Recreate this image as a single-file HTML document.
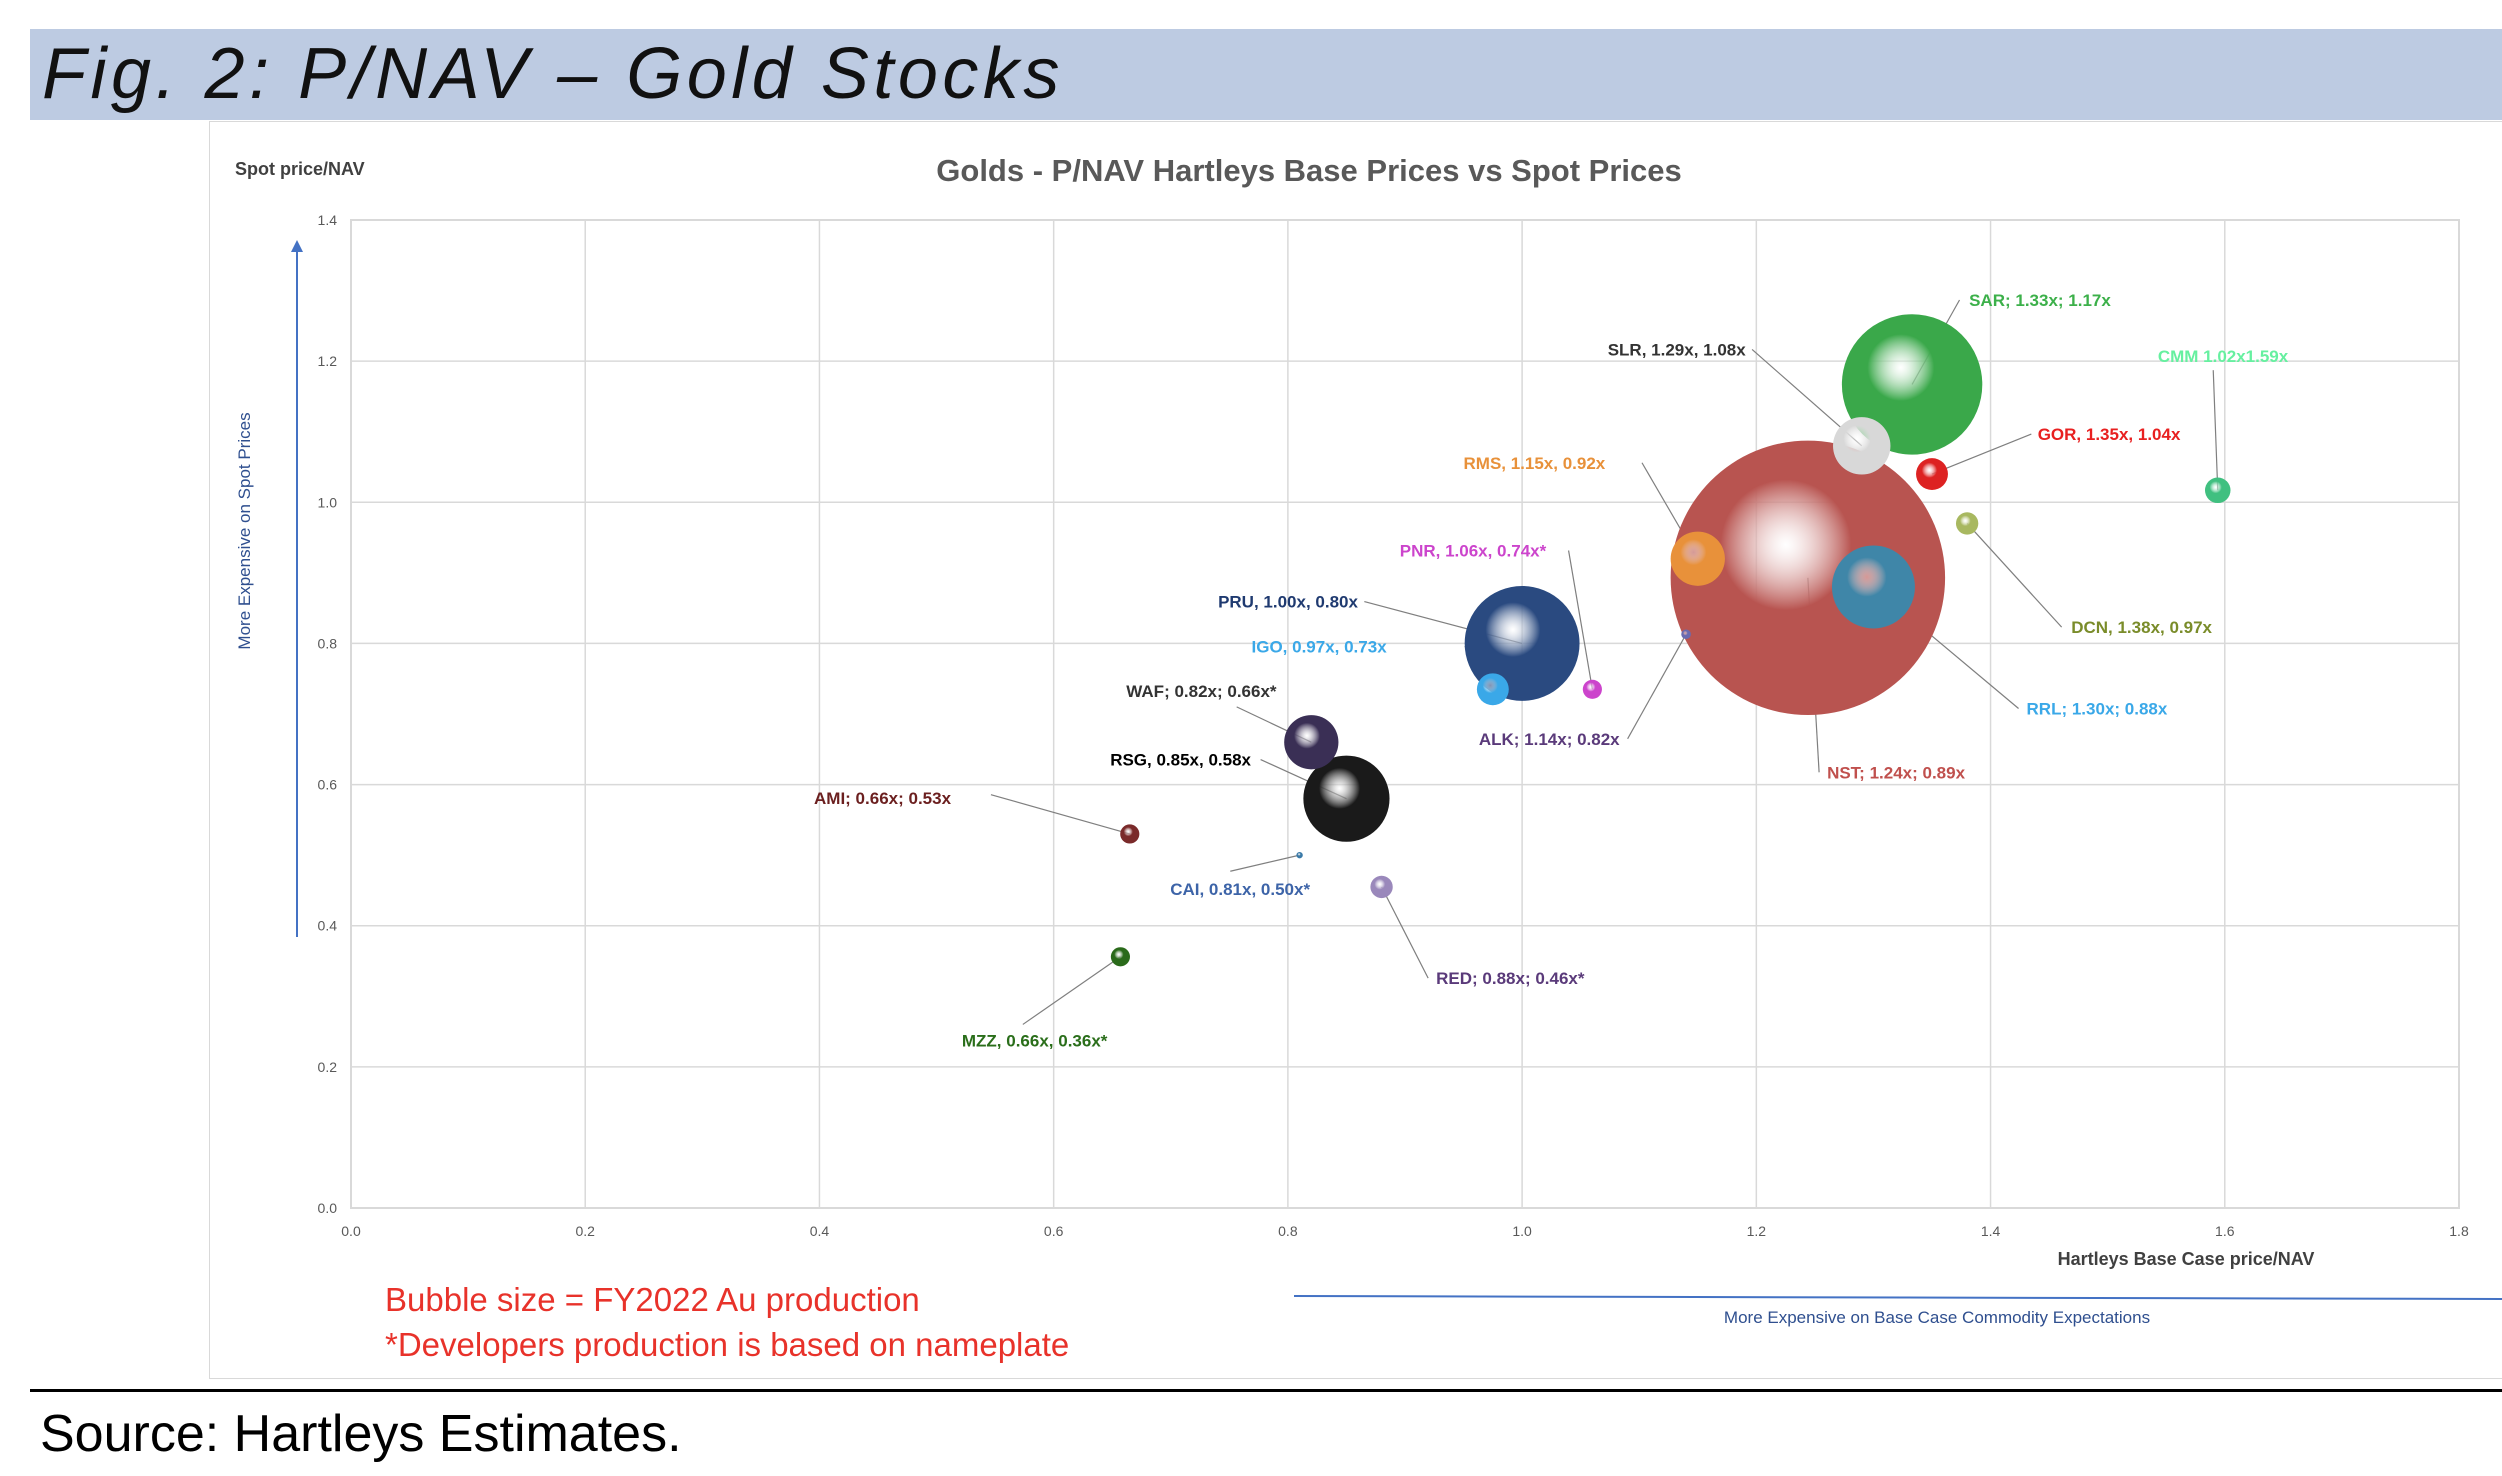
<!DOCTYPE html>
<html><head><meta charset="utf-8">
<style>
html,body{margin:0;padding:0;background:#fff;}
body{width:2502px;height:1476px;position:relative;overflow:hidden;font-family:"Liberation Sans",sans-serif;}
</style></head>
<body>
<div style="position:absolute;left:30px;top:29px;width:2472px;height:91px;background:#bdcbe2;"></div>
<div style="position:absolute;left:42px;top:28px;font-size:72px;font-style:italic;letter-spacing:4.5px;color:#111;line-height:92px;">Fig. 2: P/NAV – Gold Stocks</div>
<div style="position:absolute;left:209px;top:121px;width:2300px;height:1256px;border:1.5px solid #d9d9d9;"></div>
<div style="position:absolute;left:30px;top:1389px;width:2472px;height:3px;background:#000;"></div>
<div style="position:absolute;left:40px;top:1404px;font-size:52px;color:#000;line-height:60px;">Source: Hartleys Estimates.</div>

<svg id="chart" width="2502" height="1476" style="position:absolute;left:0;top:0;" xmlns="http://www.w3.org/2000/svg">
<text x="1309" y="181" text-anchor="middle" font-family="Liberation Sans" font-weight="bold" font-size="31" fill="#595959">Golds - P/NAV Hartleys Base Prices vs Spot Prices</text>
<text x="235" y="175" font-family="Liberation Sans" font-weight="bold" font-size="18" fill="#404040">Spot price/NAV</text>
<text x="2186" y="1265" text-anchor="middle" font-family="Liberation Sans" font-weight="bold" font-size="18" fill="#404040">Hartleys Base Case price/NAV</text>
<text transform="translate(250,531) rotate(-90)" text-anchor="middle" font-family="Liberation Sans" font-size="17" fill="#2f4f8f">More Expensive on Spot Prices</text>
<line x1="297" y1="937" x2="297" y2="250" stroke="#4472c4" stroke-width="2"/>
<polygon points="297,240 291,252 303,252" fill="#4472c4"/>
<line x1="1294" y1="1296" x2="2502" y2="1299" stroke="#4472c4" stroke-width="2"/>
<text x="1937" y="1323" text-anchor="middle" font-family="Liberation Sans" font-size="17" fill="#2f4f8f">More Expensive on Base Case Commodity Expectations</text>
<text x="385" y="1311" font-family="Liberation Sans" font-size="33" fill="#e8322a">Bubble size = FY2022 Au production</text>
<text x="385" y="1356" font-family="Liberation Sans" font-size="33" fill="#e8322a">*Developers production is based on nameplate</text>
<defs id="defs"></defs>
<g id="grid"></g><g id="leaders"></g><g id="bubbles"></g><g id="labels"></g>
</svg>

<script>
const xTicks = [0.0,0.2,0.4,0.6,0.8,1.0,1.2,1.4,1.6,1.8];
const yTicks = [0.0,0.2,0.4,0.6,0.8,1.0,1.2,1.4];
const tickLabelsX = ["0.0","0.2","0.4","0.6","0.8","1.0","1.2","1.4","1.6","1.8"];
const tickLabelsY = ["0.0","0.2","0.4","0.6","0.8","1.0","1.2","1.4"];
const tickers = ["NST","SAR","PRU","RSG","RRL","SLR","RMS","WAF","GOR","IGO","CMM","DCN","RED","PNR","AMI","MZZ","ALK","CAI"];
const baseNav = [1.244,1.333,1.00,0.85,1.30,1.29,1.15,0.82,1.35,0.975,1.594,1.38,0.88,1.06,0.665,0.657,1.14,0.81];
const spotNav = [0.893,1.167,0.80,0.58,0.88,1.08,0.92,0.66,1.04,0.735,1.017,0.97,0.455,0.735,0.53,0.356,0.813,0.50];
const production = [7396,1936,1296,729,676,324,289,289,100,100,64,49,49,36,36,36,9,4];
const labelTexts = ["NST; 1.24x; 0.89x","SAR; 1.33x; 1.17x","PRU, 1.00x, 0.80x","RSG, 0.85x, 0.58x","RRL; 1.30x; 0.88x","SLR, 1.29x, 1.08x","RMS, 1.15x, 0.92x","WAF; 0.82x; 0.66x*","GOR, 1.35x, 1.04x","IGO, 0.97x, 0.73x","CMM 1.02x1.59x","DCN, 1.38x, 0.97x","RED; 0.88x; 0.46x*","PNR, 1.06x, 0.74x*","AMI; 0.66x; 0.53x","MZZ, 0.66x, 0.36x*","ALK; 1.14x; 0.82x","CAI, 0.81x, 0.50x*"];
const colors = ["#b85450","#3aa84a","#2a4a80","#1a1a1a","#3f86a8","#d8d8d8","#e8913a","#3a2f55","#dd2222","#3aa8e8","#40c080","#a8b860","#9a88bb","#cc44cc","#7a2a2a","#2a6a1a","#6a6ab0","#3a7aa8"];
const labelColors = ["#c0504d","#3cb04a","#1f3a70","#000000","#3aa8e8","#333333","#e8913a","#333333","#e82020","#3aa8e8","#66f0a0","#7a8c2a","#5a3a7a","#cc44cc","#6b1f1f","#2a6e1a","#5a3a7a","#3d64a8"];
// label layout (displayed coords, scaled by S): [textX, textY, anchor, leaderStartX, leaderStartY]
const S = 1.5957;
const labelLayout = [
 [1145,484,"start",1140,484],[1234,188,"start",1228,188],[851,377,"end",855,377],[784,476,"end",790,476],
 [1270,444,"start",1265,444],[1094,219,"end",1098,219],[1006,290,"end",1029,290],[800,433,"end",775,443],
 [1277,272,"start",1273,272],[869,405,"end",918,405],[1434,223,"end",1387,232],[1298,393,"start",1292,393],
 [900,613,"start",895,613],[969,345,"end",983,345],[596,500,"end",621,498],[694,652,"end",641,642],
 [1015,463,"end",1020,463],[821,557,"end",771,546]];

const X0=351, X1=2459, Y0=1208, Y1=220;
const xScale = v => X0 + (v/1.8)*(X1-X0);
const yScale = v => Y0 - (v/1.4)*(Y0-Y1);
const rScale = v => S*Math.sqrt(v);
const NS="http://www.w3.org/2000/svg";
const mk=(t,a,p)=>{const e=document.createElementNS(NS,t);for(const k in a)e.setAttribute(k,a[k]);p.appendChild(e);return e;};
const grid=document.getElementById('grid'), defs=document.getElementById('defs');
mk('rect',{x:X0,y:Y1,width:X1-X0,height:Y0-Y1,fill:'none',stroke:'#d9d9d9','stroke-width':2},grid);
xTicks.forEach((t,i)=>{
  const l=mk('line',{x1:xScale(t),x2:xScale(t),y1:Y1,y2:Y0,stroke:'#d9d9d9','stroke-width':1.5},grid);
  
  
  const tx=mk('text',{x:xScale(t),y:Y0+28,'text-anchor':'middle','font-family':'Liberation Sans','font-size':14,fill:'#595959'},grid);
  tx.textContent=tickLabelsX[i];
  
  
});
yTicks.forEach((t,i)=>{
  const l=mk('line',{x1:X0,x2:X1,y1:yScale(t),y2:yScale(t),stroke:'#d9d9d9','stroke-width':1.5},grid);
  
  
  const tx=mk('text',{x:X0-14,y:yScale(t)+5,'text-anchor':'end','font-family':'Liberation Sans','font-size':14,fill:'#595959'},grid);
  tx.textContent=tickLabelsY[i];
  
  
});
const gB=document.getElementById('bubbles'), gL=document.getElementById('labels'), gLd=document.getElementById('leaders');
tickers.forEach((tk,i)=>{
  const cx=xScale(baseNav[i]), cy=yScale(spotNav[i]), r=rScale(production[i]);
  const g=mk('radialGradient',{id:'g'+i,cx:'42%',cy:'38%',r:'68%'},defs);
  mk('stop',{offset:'0%','stop-color':'#ffffff','stop-opacity':0.4},g);
  mk('stop',{offset:'35%','stop-color':colors[i]},g);
  mk('stop',{offset:'100%','stop-color':colors[i],'stop-opacity':1},g);
  const c=mk('circle',{cx:cx,cy:cy,r:r,fill:'url(#g'+i+')'},gB);
  
  
  const L=labelLayout[i];
  const ld=mk('line',{x1:L[3]*S,y1:L[4]*S,x2:cx,y2:cy,stroke:'#7f7f7f','stroke-width':1.2},gLd);
  
  
  const t=mk('text',{x:L[0]*S,y:L[1]*S+6,'text-anchor':L[2],'font-family':'Liberation Sans','font-weight':'bold','font-size':17,fill:labelColors[i]},gL);
  t.textContent=labelTexts[i];
  
  
});
</script>
</body></html>
